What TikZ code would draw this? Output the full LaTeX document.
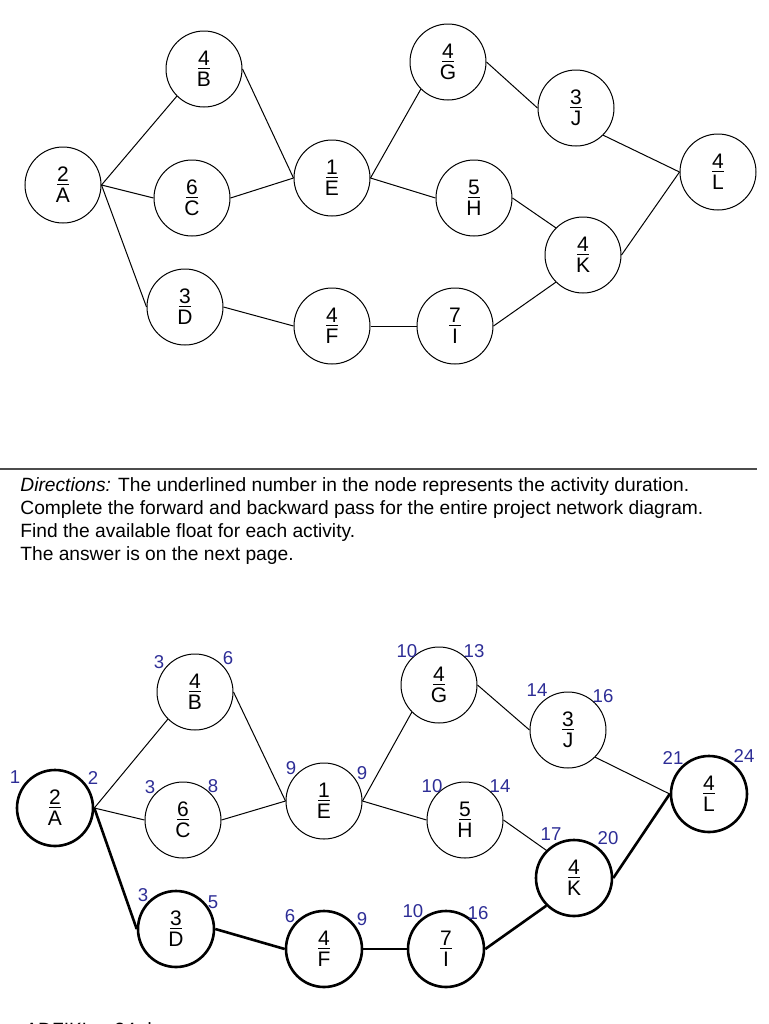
\documentclass[tikz,border=0pt]{standalone}
\usepackage{fontspec}
\setmainfont{Liberation Sans}
\usepackage{xcolor}
\usetikzlibrary{calc}
\definecolor{timeblue}{RGB}{45,45,150}

\begin{document}
\begin{tikzpicture}[x=0.5pt,y=-0.5pt]
% Node styles: plain activity and critical activity
\tikzstyle{task node}=[circle,draw,line width=0.5pt,minimum size=38pt,inner sep=0,align=center,font=\fontsize{10.5}{10.5}\selectfont];
\tikzstyle{crit node}=[task node,line width=1.3pt];
\tikzstyle{link}=[line width=0.5pt];
\tikzstyle{crit link}=[line width=1.3pt];
\tikzstyle{time label}=[text=timeblue,inner sep=0,font=\fontsize{9.3}{9.5}\selectfont];
\useasboundingbox (0,0) rectangle (768,1024);
% The question network
\foreach \n/\x/\y/\d in {A/63/185/2,B/204/69/4,C/192/198/6,D/185/307/3,E/332/178/1,F/332/326/4,G/448/62/4,H/474/198/5,I/455/326/7,J/576/108/3,K/583/255/4,L/718/172/4}
\node(t\n)[task node]at(\x,\y){\underline{\d}\\\n};
\draw[link](tA.east)--(tB.south west);
\draw[link](tA.east)--(tC.west);
\draw[link](tA.east)--(tD.west);
\draw[link](tB.east)--(tE.west);
\draw[link](tC.east)--(tE.west);
\draw[link](tE.east)--(tG.south west);
\draw[link](tE.east)--(tH.west);
\draw[link](tG.east)--(tJ.west);
\draw[link](tH.east)--(tK.north west);
\draw[link](tJ.south east)--(tL.west);
\draw[link](tK.east)--(tL.west);
\draw[link](tD.east)--(tF.west);
\draw[link](tF.east)--(tI.west);
\draw[link](tI.east)--(tK.south west);
% Separator and directions
\draw[line width=0.75pt,black!70](0,469)--(757,469);
\node(dir)[anchor=north west,inner sep=0,align=left,font=\fontsize{9.6}{11.5}\selectfont]at(20,477){\textit{Directions:} The underlined number in the node represents the activity duration.\\Complete the forward and backward pass for the entire project network diagram.\\Find the available float for each activity.\\The answer is on the next page.};
% The answer network
\foreach \n/\x/\y/\d in {B/195/692/4,C/183/820/6,E/324/801/1,G/439/685/4,H/465/820/5,J/568/730/3}
\node(b\n)[task node]at(\x,\y){\underline{\d}\\\n};
\foreach \n/\x/\y/\d in {A/55/808/2,D/176/929/3,F/324/949/4,I/446/949/7,K/574/878/4,L/709/794/4}
\node(b\n)[crit node]at(\x,\y){\underline{\d}\\\n};
\draw[link](bA.east)--(bB.south west);
\draw[link](bA.east)--(bC.west);
\draw[link](bB.east)--(bE.west);
\draw[link](bC.east)--(bE.west);
\draw[link](bE.east)--(bG.south west);
\draw[link](bE.east)--(bH.west);
\draw[link](bG.east)--(bJ.west);
\draw[link](bH.east)--(bK.north west);
\draw[link](bJ.south east)--(bL.west);
\draw[crit link](bA.east)--(bD.west);
\draw[crit link](bD.east)--(bF.west);
\draw[crit link](bF.east)--(bI.west);
\draw[crit link](bI.east)--(bK.south west);
\draw[crit link](bK.east)--(bL.west);
% Early start and early finish
\foreach \n/\x/\y/\t in {esA/15/777/1,efA/93/778/2,esB/159/662/3,efB/228/658/6,esC/150/787/3,efC/213/786/8,esE/291/768/9,efE/362/773/9,esG/407/651/10,efG/474/651/13,esJ/537/690/14,efJ/603/696/16,esH/432/786/10,efH/500/786/14,esL/673/758/21,efL/744/756/24,esK/551/834/17,efK/608/838/20,esD/143/895/3,efD/213/902/5,esF/290/916/6,efF/362/919/9,esI/413/911/10,efI/478/913/16}
\node(\n)[time label]at(\x,\y){\t};
% Answer line, cut off at the page edge
\node(path)[anchor=base west,inner sep=0,font=\fontsize{9.6}{11}\selectfont]at(25,1036){ADFIKL = 24 days};
\end{tikzpicture}
\end{document}
